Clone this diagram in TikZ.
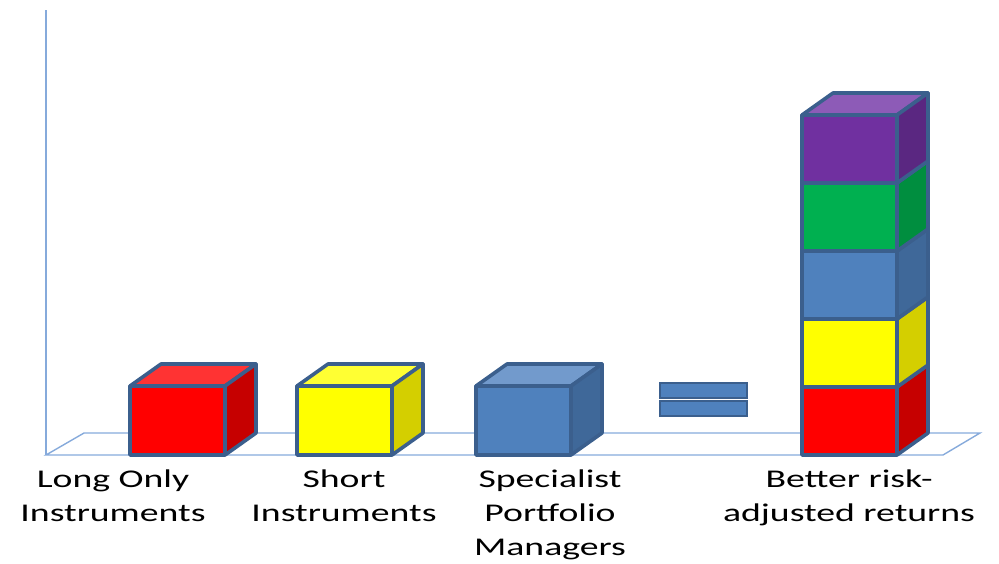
\documentclass[tikz,border=0pt]{standalone}
\usepackage{fontspec}
\setmainfont[FakeStretch=1.48]{Carlito}
\begin{document}
\begin{tikzpicture}[x=1pt,y=-1pt,
  floorline/.style={draw=floorblue,line width=1.4pt},
  edge/.style={draw=edgeblue,line width=3.6pt,line join=round},
  label/.style={align=center,anchor=base,inner sep=0pt,
    font=\fontsize{25.5}{34}\selectfont}]
\definecolor{floorblue}{HTML}{86AADB}
\definecolor{edgeblue}{HTML}{3B5F8D}
\definecolor{redF}{HTML}{FF0000}\definecolor{redS}{HTML}{C60000}\definecolor{redT}{HTML}{FF3333}
\definecolor{yelF}{HTML}{FFFF00}\definecolor{yelS}{HTML}{D4CF00}\definecolor{yelT}{HTML}{FFFF33}
\definecolor{bluF}{HTML}{4F81BD}\definecolor{bluS}{HTML}{3F6899}\definecolor{bluT}{HTML}{729ACC}
\definecolor{grnF}{HTML}{00B050}\definecolor{grnS}{HTML}{008E3F}\definecolor{grnT}{HTML}{33C070}
\definecolor{purF}{HTML}{7030A0}\definecolor{purS}{HTML}{5A2781}\definecolor{purT}{HTML}{8D5BB7}
% one box: #1 front, #2 side, #3 top colour; #4 left x, #5 bottom y, #6 height
\newcommand\blockbox[6]{%
  \pgfmathsetmacro\bx{#4}\pgfmathsetmacro\by{#5}\pgfmathsetmacro\bh{#6}%
  \pgfmathsetmacro\rx{#4+95}\pgfmathsetmacro\ty{#5-#6}%
  \filldraw[edge,fill=#3] (\bx,\ty) -- ++(31,-22) -- ++(95,0) -- (\rx,\ty) -- cycle;
  \filldraw[edge,fill=#2] (\rx,\by) -- ++(31,-22) -- ++(0,-\bh) -- (\rx,\ty) -- cycle;
  \filldraw[edge,fill=#1] (\bx,\by) rectangle (\rx,\ty);
}
\useasboundingbox (0,0) rectangle (999,563);
% axis and floor
\coordinate (o) at (46,455);
\coordinate (top) at (46,10);
\coordinate (fl) at (84,433);
\coordinate (fr) at (943,455);
\coordinate (br) at (980,433);
\draw[floorline] (top) -- (o);
\draw[floorline] (o) -- (fr) -- (br) -- (fl) -- cycle;
% single boxes
\blockbox{redF}{redS}{redT}{130}{455}{69}
\blockbox{yelF}{yelS}{yelT}{297}{455}{69}
\blockbox{bluF}{bluS}{bluT}{476}{455}{69}
% equals sign
\filldraw[draw=edgeblue,line width=2.2pt,fill=bluF] (660,383) rectangle (747,398);
\filldraw[draw=edgeblue,line width=2.2pt,fill=bluF] (660,401) rectangle (747,416);
% stacked column, bottom to top
\blockbox{redF}{redS}{redT}{802}{455}{68}
\blockbox{yelF}{yelS}{yelT}{802}{387}{68}
\blockbox{bluF}{bluS}{bluT}{802}{319}{68}
\blockbox{grnF}{grnS}{grnT}{802}{251}{68}
\blockbox{purF}{purS}{purT}{802}{183}{68}
% labels (anchored at the baseline of the last line)
\node[label] (l1) at (113,521) {Long Only\\Instruments};
\node[label] (l2) at (344,521) {Short\\Instruments};
\node[label] (l3) at (550,555) {Specialist\\Portfolio\\Managers};
\node[label] (l4) at (849,521) {Better risk-\\adjusted returns};
\end{tikzpicture}
\end{document}
